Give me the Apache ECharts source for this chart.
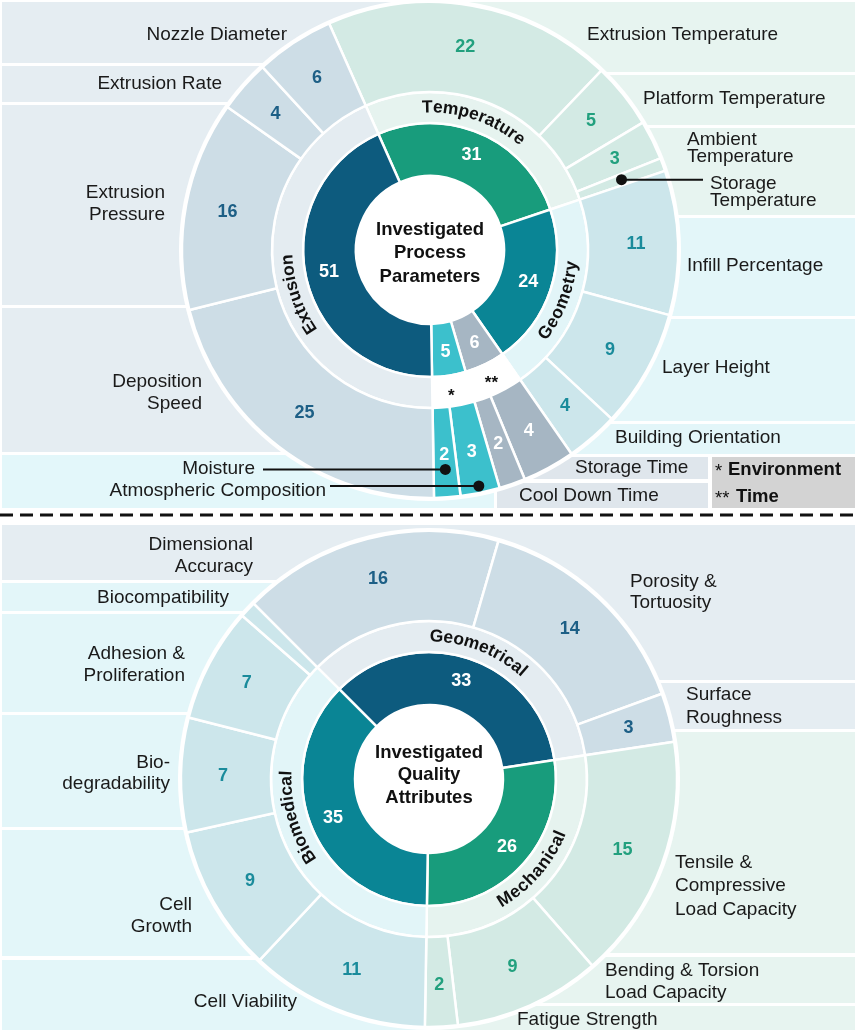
<!DOCTYPE html>
<html>
<head>
<meta charset="utf-8">
<title>Investigated Process Parameters and Quality Attributes</title>
<script src="https://cdn.jsdelivr.net/npm/echarts/dist/echarts.min.js"></script>
<style>
html,body{margin:0;padding:0;background:#fff;}
#chart{width:858px;height:1033px;}
</style>
</head>
<body>
<div id="chart"></div>
<script>
// ===================== DATA =====================
// Top chart: investigated process parameters
const processCategoryNames  = ['Temperature', 'Geometry', 'Time', 'Environment', 'Extrusion'];
const processCategoryLabels = ['Temperature', 'Geometry', '**', '*', 'Extrusion'];
const processCategoryValues = [31, 24, 6, 5, 51];

const processParamNames = ['Extrusion Temperature', 'Platform Temperature', 'Ambient Temperature', 'Storage Temperature',
  'Infill Percentage', 'Layer Height', 'Building Orientation', 'Cool Down Time', 'Storage Time',
  'Atmospheric Composition', 'Moisture', 'Deposition Speed', 'Extrusion Pressure', 'Extrusion Rate', 'Nozzle Diameter'];
const processParamLabels = ['Extrusion Temperature', 'Platform Temperature', 'Ambient\nTemperature', 'Storage\nTemperature',
  'Infill Percentage', 'Layer Height', 'Building Orientation', 'Cool Down Time', 'Storage Time',
  'Atmospheric Composition', 'Moisture', 'Deposition\nSpeed', 'Extrusion\nPressure', 'Extrusion Rate', 'Nozzle Diameter'];
const processParamValues   = [22, 5, 3, 1, 11, 9, 4, 4, 2, 3, 2, 25, 16, 4, 6];
const processParamCategory = [0, 0, 0, 0, 1, 1, 1, 2, 2, 3, 3, 4, 4, 4, 4];

// Bottom chart: investigated quality attributes
const qualityCategoryNames  = ['Geometrical', 'Mechanical', 'Biomedical'];
const qualityCategoryValues = [33, 26, 35];

const qualityAttrNames = ['Dimensional Accuracy', 'Porosity & Tortuosity', 'Surface Roughness',
  'Tensile & Compressive Load Capacity', 'Bending & Torsion Load Capacity', 'Fatigue Strength',
  'Cell Viability', 'Cell Growth', 'Bio-degradability', 'Adhesion & Proliferation', 'Biocompatibility'];
const qualityAttrLabels = ['Dimensional\nAccuracy', 'Porosity &\nTortuosity', 'Surface\nRoughness',
  'Tensile &\nCompressive\nLoad Capacity', 'Bending & Torsion\nLoad Capacity', 'Fatigue Strength',
  'Cell Viability', 'Cell\nGrowth', 'Bio-\ndegradability', 'Adhesion &\nProliferation', 'Biocompatibility'];
const qualityAttrValues   = [16, 14, 3, 15, 9, 2, 11, 9, 7, 7, 1];
const qualityAttrCategory = [0, 0, 0, 1, 1, 1, 2, 2, 2, 2, 2];

const centerTitles = ['Investigated\nProcess\nParameters', 'Investigated\nQuality\nAttributes'];
const legendItems  = [['*', 'Environment'], ['**', 'Time']];

// ===================== STYLE / LAYOUT =====================
const FONT = "'Liberation Sans', Arial, Helvetica, sans-serif";
const PAL = {
  blue:  {dark: '#0d5b7e', ring: '#e4ecf1', outer: '#cddde6', band: '#e5edf2', num: '#1d5f86'},
  green: {dark: '#189c7c', ring: '#e6f3ef', outer: '#d3eae4', band: '#e7f4f0', num: '#22a07e'},
  teal:  {dark: '#0a8595', ring: '#e2f5f8', outer: '#cce6eb', band: '#e3f6f9', num: '#1a8b9b'},
  grey:  {dark: '#a6b6c3', ring: '#ffffff', outer: '#a6b6c3', band: '#dfe6ec', num: '#ffffff'},
  cyan:  {dark: '#3cc0cc', ring: '#ffffff', outer: '#3cc0cc', band: '#e3f7fa', num: '#ffffff'}
};
const processPal = [PAL.green, PAL.teal, PAL.grey, PAL.cyan, PAL.blue];
const qualityPal = [PAL.blue, PAL.green, PAL.teal];

const TOP = {cx: 430, cy: 250, start: 114};
const BOT = {cx: 429, cy: 779, start: 135};
const RAD = {hole: 74, inner: 127, ring: 158, outer: 248, base: 251, text: 142.5};
const LABEL_SIZE = 19;

// ring label orientation & angular tweak (deg)
const processRingStyle = [{o: 'out', d: -5}, {o: 'in', d: 3}, {o: 'flat', d: 0}, {o: 'flat', d: 0}, {o: 'out', d: -6}];
const qualityRingStyle = [{o: 'out', d: 3}, {o: 'in', d: 0}, {o: 'out', d: 6}];

// label positions for the outer items (index aligned with names)
const processLabelPos = [
  {x: 587, y: 35, a: 'left'}, {x: 643, y: 99, a: 'left'}, {x: 687, y: 148, a: 'left', lh: 17},
  {x: 710, y: 192, a: 'left', lh: 17}, {x: 687, y: 266, a: 'left'}, {x: 662, y: 368, a: 'left'},
  {x: 615, y: 438, a: 'left'}, {x: 519, y: 496, a: 'left'}, {x: 575, y: 468, a: 'left'},
  {x: 326, y: 491, a: 'right'}, {x: 255, y: 469, a: 'right'}, {x: 202, y: 393, a: 'right'},
  {x: 165, y: 204, a: 'right'}, {x: 222, y: 84, a: 'right'}, {x: 287, y: 35, a: 'right'}
];
const qualityLabelPos = [
  {x: 253, y: 556, a: 'right'}, {x: 630, y: 592, a: 'left', lh: 21}, {x: 686, y: 706, a: 'left', lh: 23},
  {x: 675, y: 886, a: 'left', lh: 23.5}, {x: 605, y: 982, a: 'left', lh: 21.5}, {x: 517, y: 1020, a: 'left'},
  {x: 297, y: 1002, a: 'right'}, {x: 192, y: 916, a: 'right'}, {x: 170, y: 773, a: 'right', lh: 21},
  {x: 185, y: 665, a: 'right'}, {x: 229, y: 598, a: 'right'}
];
// background bands [x, y, w, h, palette]
const processBands = [
  [2, 2, 428, 61, PAL.blue], [2, 66, 428, 36, PAL.blue], [2, 105, 428, 200, PAL.blue],
  [2, 308, 428, 144, PAL.blue], [2, 455, 492, 53, PAL.cyan],
  [430, 2, 425, 70, PAL.green], [430, 75, 425, 50, PAL.green], [430, 128, 425, 87, PAL.green],
  [430, 218, 425, 98, PAL.teal], [430, 319, 425, 102, PAL.teal], [430, 424, 425, 30, PAL.teal],
  [430, 457, 278, 22, PAL.grey], [497, 483, 211, 25, PAL.grey]
];
const qualityBands = [
  [2, 525, 427, 55, PAL.blue], [2, 583, 427, 28, PAL.teal], [2, 614, 427, 98, PAL.teal],
  [2, 715, 427, 112, PAL.teal], [2, 830, 427, 126, PAL.teal], [2, 960, 427, 70, PAL.teal],
  [429, 525, 426, 155, PAL.blue], [429, 683, 426, 46, PAL.blue], [429, 732, 426, 221, PAL.green],
  [429, 957, 426, 46, PAL.green], [429, 1006, 426, 24, PAL.green]
];
// leader dots: item index in outer ring, dot radius, line end x
const processLeaders = [{i: 3, r: 204, x: 703}, {i: 10, r: 220, x: 263}, {i: 9, r: 241, x: 330}];

// ===================== SERIES =====================
function pieSeries(geo, r0, r1, names, values, colors, labelFn) {
  return {
    type: 'pie', center: [geo.cx, geo.cy], radius: [r0, r1], startAngle: geo.start, clockwise: true,
    silent: true, animation: false, avoidLabelOverlap: false, minAngle: 0, z: 2,
    selectedMode: false, emphasis: {disabled: true},
    itemStyle: {borderColor: '#ffffff', borderWidth: 2.5},
    labelLine: {show: false},
    data: names.map((n, i) => ({name: n, value: values[i], itemStyle: {color: colors[i]}, label: labelFn(i)}))
  };
}
const numLabel = (show, color) => ({show: show, position: 'inside', formatter: '{c}', color: color,
  fontSize: 18, fontWeight: 'bold', fontFamily: FONT});

const series = [
  pieSeries(TOP, RAD.hole, RAD.inner, processCategoryNames, processCategoryValues,
    processPal.map(p => p.dark), i => numLabel(true, '#ffffff')),
  pieSeries(TOP, RAD.inner, RAD.ring, processCategoryNames, processCategoryValues,
    processPal.map(p => p.ring), i => ({show: false})),
  pieSeries(TOP, RAD.ring, RAD.outer, processParamNames, processParamValues,
    processParamCategory.map(c => processPal[c].outer),
    i => numLabel(processParamValues[i] > 1, processPal[processParamCategory[i]].num)),
  pieSeries(BOT, RAD.hole, RAD.inner, qualityCategoryNames, qualityCategoryValues,
    qualityPal.map(p => p.dark), i => numLabel(true, '#ffffff')),
  pieSeries(BOT, RAD.inner, RAD.ring, qualityCategoryNames, qualityCategoryValues,
    qualityPal.map(p => p.ring), i => ({show: false})),
  pieSeries(BOT, RAD.ring, RAD.outer, qualityAttrNames, qualityAttrValues,
    qualityAttrCategory.map(c => qualityPal[c].outer),
    i => numLabel(qualityAttrValues[i] > 1, qualityPal[qualityAttrCategory[i]].num))
];

const chart = echarts.init(document.getElementById('chart'), null, {renderer: 'canvas'});
chart.setOption({animation: false, textStyle: {fontFamily: FONT}, series: series});

// ===================== LAYOUT FROM THE LIBRARY =====================
function itemLayouts(seriesIndex, geo, values, r0, r1) {
  try {
    const data = chart.getModel().getSeriesByIndex(seriesIndex).getData();
    const out = values.map((v, i) => data.getItemLayout(i));
    if (out.every(l => l && isFinite(l.startAngle))) return out;
  } catch (e) {}
  const total = values.reduce((a, b) => a + b, 0);
  let a = -geo.start * Math.PI / 180;
  return values.map(v => { const s = a; a += v / total * 2 * Math.PI;
    return {startAngle: s, endAngle: a, cx: geo.cx, cy: geo.cy, r0: r0, r: r1}; });
}
const midOf = l => (l.startAngle + l.endAngle) / 2;

// ===================== GRAPHICS =====================
const G = [];
function rect(x, y, w, h, fill, z) {
  return {type: 'rect', z: z || 0, silent: true, shape: {x: x, y: y, width: w, height: h}, style: {fill: fill}};
}
function txt(text, x, y, align, o) {
  o = o || {};
  return {type: 'text', z: 20, silent: true, x: x, y: y,
    style: {text: text, fill: o.color || '#1a1a1a',
      font: (o.weight || 'normal') + ' ' + (o.size || LABEL_SIZE) + 'px ' + FONT,
      textAlign: align, textVerticalAlign: 'middle', lineHeight: o.lh || 22}};
}
const mctx = document.createElement('canvas').getContext('2d');
function arcText(cx, cy, R, mid, text, font, outward, color) {
  mctx.font = font;
  const chars = Array.from(text);
  const widths = chars.map(ch => mctx.measureText(ch).width + 0.3);
  const L = widths.reduce((a, b) => a + b, 0);
  const dir = outward ? 1 : -1;
  const a0 = mid - dir * L / (2 * R);
  let acc = 0;
  return chars.map((ch, i) => {
    const a = a0 + dir * (acc + widths[i] / 2) / R;
    acc += widths[i];
    return {type: 'text', z: 20, silent: true,
      x: cx + R * Math.cos(a), y: cy + R * Math.sin(a),
      rotation: outward ? -(a + Math.PI / 2) : (Math.PI / 2 - a),
      style: {text: ch, font: font, fill: color, textAlign: 'center', textVerticalAlign: 'middle'}};
  });
}

// bands
processBands.concat(qualityBands).forEach(b => G.push(rect(b[0], b[1], b[2], b[3], b[4].band, 0)));
// legend box
G.push(rect(712, 457, 143, 51, '#d3d3d3', 0));
// white discs behind the pies
[TOP, BOT].forEach(g => G.push({type: 'circle', z: 1, silent: true,
  shape: {cx: g.cx, cy: g.cy, r: RAD.base}, style: {fill: '#ffffff'}}));

// outer item labels
processParamLabels.forEach((t, i) => { const p = processLabelPos[i]; G.push(txt(t, p.x, p.y, p.a, {lh: p.lh})); });
qualityAttrLabels.forEach((t, i) => { const p = qualityLabelPos[i]; G.push(txt(t, p.x, p.y, p.a, {lh: p.lh})); });

// centre titles
G.push(txt(centerTitles[0], TOP.cx, TOP.cy + 3, 'center', {weight: 'bold', size: 18.5, lh: 23.5, color: '#111'}));
G.push(txt(centerTitles[1], BOT.cx, BOT.cy - 4, 'center', {weight: 'bold', size: 18.5, lh: 22.5, color: '#111'}));

// ring labels (curved)
const ringFont = 'bold 17.5px ' + FONT;
const topRing = itemLayouts(1, TOP, processCategoryValues, RAD.inner, RAD.ring);
processCategoryLabels.forEach((t, i) => {
  const st = processRingStyle[i];
  const m = midOf(topRing[i]) + st.d * Math.PI / 180;
  if (st.o === 'flat') {
    G.push(txt(t, TOP.cx + RAD.text * Math.cos(m), TOP.cy + RAD.text * Math.sin(m) + 5, 'center',
      {weight: 'bold', size: 17, color: '#111'}));
  } else {
    arcText(TOP.cx, TOP.cy, RAD.text, m, t, ringFont, st.o === 'out', '#111').forEach(e => G.push(e));
  }
});
const botRing = itemLayouts(4, BOT, qualityCategoryValues, RAD.inner, RAD.ring);
qualityCategoryNames.forEach((t, i) => {
  const st = qualityRingStyle[i];
  const m = midOf(botRing[i]) + st.d * Math.PI / 180;
  arcText(BOT.cx, BOT.cy, RAD.text, m, t, ringFont, st.o === 'out', '#111').forEach(e => G.push(e));
});

// leader dots and lines
const topOuter = itemLayouts(2, TOP, processParamValues, RAD.ring, RAD.outer);
processLeaders.forEach(ld => {
  const m = midOf(topOuter[ld.i]);
  const x = TOP.cx + ld.r * Math.cos(m), y = TOP.cy + ld.r * Math.sin(m);
  G.push({type: 'line', z: 21, silent: true, shape: {x1: ld.x, y1: y, x2: x, y2: y},
    style: {stroke: '#111', lineWidth: 2}});
  G.push({type: 'circle', z: 22, silent: true, shape: {cx: x, cy: y, r: 5.5}, style: {fill: '#111'}});
});

// legend texts
G.push(txt(legendItems[0][0], 715, 472, 'left', {size: 18.5, color: '#111'}));
G.push(txt(legendItems[0][1], 728, 470, 'left', {size: 18.5, weight: 'bold', color: '#111'}));
G.push(txt(legendItems[1][0], 715, 499, 'left', {size: 18.5, color: '#111'}));
G.push(txt(legendItems[1][1], 736, 497, 'left', {size: 18.5, weight: 'bold', color: '#111'}));

// dashed separator
G.push({type: 'line', z: 5, silent: true, shape: {x1: 0, y1: 515, x2: 858, y2: 515},
  style: {stroke: '#111', lineWidth: 3, lineDash: [13, 7]}});

chart.setOption({graphic: {elements: G}});
</script>
</body>
</html>
